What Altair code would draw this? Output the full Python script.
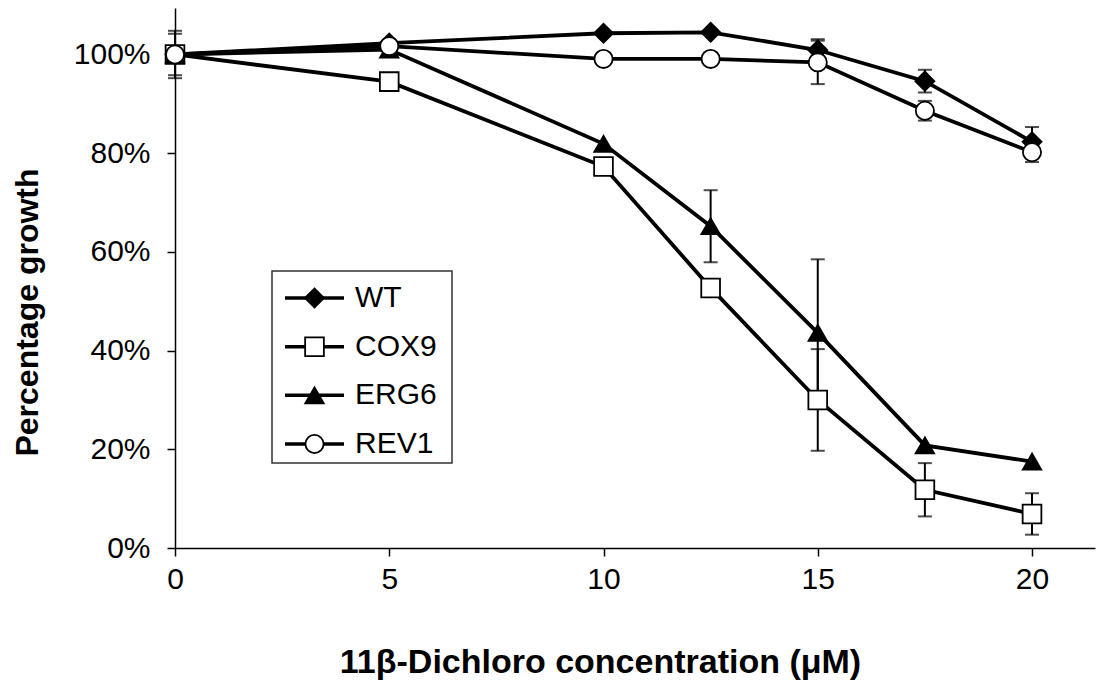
import altair as alt
import pandas as pd

# ---- data ----
conc = [0, 5, 10, 12.5, 15, 17.5, 20]
series_names = ["WT", "COX9", "ERG6", "REV1"]
wt = [100, 102.3, 104.3, 104.5, 100.9, 94.6, 82.3]
cox9 = [100, 94.5, 77.3, 52.7, 30.0, 11.8, 6.9]
erg6 = [100, 101.0, 81.9, 65.2, 43.6, 20.8, 17.5]
rev1 = [100, 101.7, 99.1, 99.1, 98.4, 88.6, 80.2]
wt_err = [4.8, 0, 0, 0, 2.2, 2.3, 3.0]
cox9_err = [0, 0, 0, 0, 10.3, 5.4, 4.2]
erg6_err = [0, 0, 0, 7.3, 14.9, 0, 0]
rev1_err = [4.2, 0, 0, 0, 4.4, 2.0, 2.0]
x_ticks = [0, 5, 10, 15, 20]
y_ticks = [0, 20, 40, 60, 80, 100]

values = {"WT": wt, "COX9": cox9, "ERG6": erg6, "REV1": rev1}
errors = {"WT": wt_err, "COX9": cox9_err, "ERG6": erg6_err, "REV1": rev1_err}

rows = []
for k, s in enumerate(series_names):
    for i, c in enumerate(conc):
        e = errors[s][i]
        rows.append({"series": s, "order": k, "conc": c, "value": values[s][i],
                     "err": e, "lo": values[s][i] - e, "hi": values[s][i] + e})
df = pd.DataFrame(rows)
legend_df = pd.DataFrame({"series": series_names})

FONT = "Liberation Sans"
shapes = ["diamond", "square", "triangle-up", "circle"]
fills = ["black", "white", "black", "white"]
sizes = [361, 330, 400, 300]

shape_enc = alt.Shape("series:N", scale=alt.Scale(domain=series_names, range=shapes), legend=None)
fill_enc = alt.Fill("series:N", scale=alt.Scale(domain=series_names, range=fills), legend=None)
size_enc = alt.Size("series:N", scale=alt.Scale(domain=series_names, range=sizes), legend=None)

x_enc = alt.X("conc:Q",
              scale=alt.Scale(domain=[0, 21.47], nice=False, zero=False),
              axis=alt.Axis(values=x_ticks, title="11β-Dichloro concentration (μM)",
                            grid=False, tickSize=8, labelPadding=8, labelFontSize=30,
                            labelFlush=False,
                            labelFont=FONT, labelColor="black", titleFont=FONT,
                            titleFontSize=34, titleFontWeight="bold", titleColor="black",
                            titleX=425, titleY=124, titleBaseline="alphabetic",
                            domainColor="black", tickColor="black", domainWidth=1.5,
                            tickWidth=1.5))
y_enc = alt.Y("value:Q",
              scale=alt.Scale(domain=[0, 109.42], nice=False, zero=True),
              axis=alt.Axis(values=y_ticks, labelExpr="datum.value + '%'",
                            title="Percentage growth", grid=False, tickSize=8,
                            labelPadding=17, labelFontSize=30, labelFont=FONT,
                            labelColor="black", titleFont=FONT, titleFontSize=32,
                            titleFontWeight="bold", titleColor="black",
                            titleX=-148, titleY=304, titleBaseline="middle",
                            domainColor="black", tickColor="black", domainWidth=1.5,
                            tickWidth=1.5))

base = alt.Chart(df)

lines = base.mark_line(color="black", strokeWidth=3.8).encode(
    x=x_enc, y=y_enc, detail="series:N", order="conc:Q")

err_df = base.transform_filter("datum.err > 0")
err_rules = err_df.mark_rule(color="black", strokeWidth=2).encode(
    x="conc:Q", y="lo:Q", y2="hi:Q")
cap_lo = err_df.mark_tick(color="black", orient="horizontal", size=14, thickness=2).encode(
    x="conc:Q", y="lo:Q")
cap_hi = err_df.mark_tick(color="black", orient="horizontal", size=14, thickness=2).encode(
    x="conc:Q", y="hi:Q")

points = base.mark_point(filled=True, stroke="black", strokeWidth=1.8, opacity=1).encode(
    x="conc:Q", y="value:Q",
    shape=shape_enc, fill=fill_enc, size=size_enc,
    order=alt.Order("order:Q"),
)

main = alt.layer(lines, err_rules, cap_lo, cap_hi, points)

# ---- legend box (drawn as marks, Excel style: line through marker) ----
leg_base = alt.Chart(legend_df)
leg_y = alt.Y("series:N",
              scale=alt.Scale(type="point", domain=series_names, range=[290, 436], padding=0),
              axis=None)

frame = leg_base.transform_filter("datum.series == 'WT'").mark_rect(
    fill="white", stroke="#333333", strokeWidth=1.5).encode(
    x=alt.value(97), x2=alt.value(277), y=alt.value(263), y2=alt.value(455))
leg_lines = leg_base.mark_rule(color="black", strokeWidth=3.5).encode(
    x=alt.value(110), x2=alt.value(169), y=leg_y)
leg_syms = leg_base.mark_point(filled=True, stroke="black", strokeWidth=1.8, opacity=1).encode(
    x=alt.value(139.5), y=leg_y, shape=shape_enc, fill=fill_enc, size=size_enc)
leg_text = leg_base.mark_text(align="left", baseline="middle", font=FONT, fontSize=30,
                              color="black").encode(
    x=alt.value(180), y=leg_y, text="series:N")

legend = alt.layer(frame, leg_lines, leg_syms, leg_text)

chart = alt.layer(main, legend).resolve_scale(y="independent").properties(
    width=920, height=540,
    padding={"left": 167, "top": 0, "right": 5, "bottom": 132},
    autosize=alt.AutoSizeParams(type="none"),
    background="white",
).configure_view(stroke=None)

chart.save("out.html", embed_options={"renderer": "svg", "actions": False})
